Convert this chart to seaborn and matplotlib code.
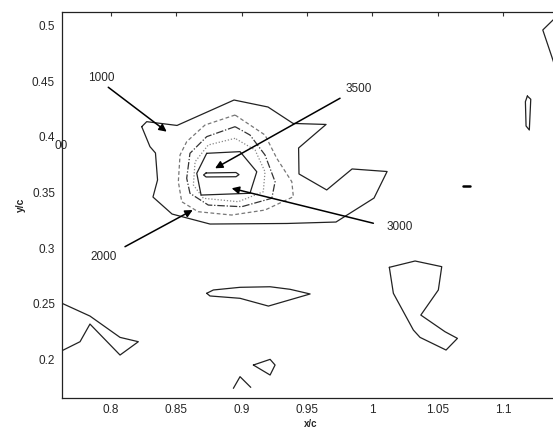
import numpy as np
import pandas as pd
import matplotlib
matplotlib.use("Agg")
import matplotlib.pyplot as plt
import seaborn as sns

# contour polylines (x/c, y/c)
c1000_x = [0.8235, 0.8298, 0.8340, 0.8356, 0.8321, 0.8467, 0.8757, 0.9347, 0.9721, 1.0012,
           1.0112, 0.9844, 0.9650, 0.9438, 0.9435, 0.9645, 0.9393, 0.9201, 0.8941, 0.8505,
           0.8273, 0.8235]
c1000_y = [0.4093, 0.3913, 0.3856, 0.3613, 0.3459, 0.3306, 0.3216, 0.3221, 0.3234, 0.3450,
           0.3689, 0.3712, 0.3523, 0.3667, 0.3901, 0.4113, 0.4122, 0.4270, 0.4333, 0.4104,
           0.4138, 0.4093]

c1500_x = [0.8949, 0.8719, 0.8579, 0.8528, 0.8515, 0.8541, 0.8666, 0.8923, 0.9178, 0.9395,
           0.9383, 0.9268, 0.9178, 0.8949]
c1500_y = [0.4198, 0.4108, 0.3958, 0.3838, 0.3597, 0.3417, 0.3327, 0.3297, 0.3342, 0.3462,
           0.3597, 0.3808, 0.4018, 0.4198]

c2000_x = [0.8949, 0.8732, 0.8604, 0.8579, 0.8604, 0.8744, 0.9000, 0.9230, 0.9255, 0.9178,
           0.9063, 0.8949]
c2000_y = [0.4093, 0.4003, 0.3853, 0.3628, 0.3493, 0.3387, 0.3372, 0.3448, 0.3597, 0.3838,
           0.4018, 0.4093]

c2500_x = [0.8949, 0.8744, 0.8643, 0.8630, 0.8706, 0.8974, 0.9165, 0.9178, 0.9102, 0.8949]
c2500_y = [0.3988, 0.3928, 0.3777, 0.3568, 0.3448, 0.3417, 0.3507, 0.3687, 0.3883, 0.3988]

c3000_x = [0.8732, 0.8987, 0.9115, 0.9063, 0.8689, 0.8656, 0.8732]
c3000_y = [0.3853, 0.3868, 0.3687, 0.3493, 0.3477, 0.3673, 0.3853]

c3500_x = [0.8727, 0.8956, 0.8979, 0.8956, 0.8727, 0.8708, 0.8727]
c3500_y = [0.3676, 0.3680, 0.3661, 0.3642, 0.3640, 0.3658, 0.3676]

# isolated 1000 contours
low_left_x = [0.7625, 0.7839, 0.8069, 0.8209, 0.8069, 0.7839, 0.7763, 0.7625]
low_left_y = [0.2502, 0.2387, 0.2195, 0.2156, 0.2036, 0.2315, 0.2156, 0.2075]
streak_x = [0.8732, 0.8783, 0.8987, 0.9217, 0.9370, 0.9523, 0.9204, 0.8987, 0.8757, 0.8732]
streak_y = [0.2592, 0.2622, 0.2646, 0.2651, 0.2628, 0.2586, 0.2477, 0.2547, 0.2568, 0.2592]
quad_x = [0.9089, 0.9217, 0.9255, 0.9217, 0.9089]
quad_y = [0.1946, 0.1997, 0.1946, 0.1856, 0.1946]
caret_x = [0.8936, 0.8987, 0.9069]
caret_y = [0.1736, 0.1841, 0.1745]
hook_x = [1.0129, 1.0326, 1.0530, 1.0504, 1.0370, 1.0555, 1.0650, 1.0563, 1.0364, 1.0313,
          1.0160, 1.0129]
hook_y = [0.2826, 0.2883, 0.2832, 0.2622, 0.2396, 0.2246, 0.2186, 0.2081, 0.2195, 0.2261,
          0.2592, 0.2826]
sliver_x = [1.1185, 1.1211, 1.1200, 1.1175, 1.1170, 1.1185]
sliver_y = [0.4369, 0.4340, 0.4063, 0.4099, 0.4318, 0.4369]
edge_x = [1.1397, 1.1303, 1.1372, 1.1405]
edge_y = [0.5072, 0.4964, 0.4723, 0.4604]
dash_x = [1.0695, 1.0750]
dash_y = [0.3561, 0.3561]

# labels: text, text position, arrow tail, arrow head
labels = ["1000", "3500", "3000", "2000"]
label_pos = [(0.7929, 0.4529), (0.9892, 0.4430), (1.0211, 0.3189), (0.7941, 0.2922)]
arrow_tail = [(0.7979, 0.4448), (0.9752, 0.4349), (1.0007, 0.3223), (0.8107, 0.3012)]
arrow_head = [(0.8426, 0.4048), (0.8796, 0.3718), (0.8923, 0.3538), (0.8625, 0.3342)]

xticks = [0.8, 0.85, 0.9, 0.95, 1.0, 1.05, 1.1]
xtick_labels = ["0.8", "0.85", "0.9", "0.95", "1", "1.05", "1.1"]
yticks = [0.2, 0.25, 0.3, 0.35, 0.4, 0.45, 0.5]
ytick_labels = ["0.2", "0.25", "0.3", "0.35", "0.4", "0.45", "0.5"]

sns.set_style("white")
plt.rcParams['font.family'] = ['Liberation Sans', 'DejaVu Sans']

fig = plt.figure(figsize=(5.53, 4.28), dpi=100)
ax = fig.add_axes([0.1121, 0.0701, 0.916, 0.9019])


def contour(xs, ys, color="#222222", lw=0.9, ls="-"):
    sns.lineplot(x=xs, y=ys, sort=False, estimator=None, ax=ax,
                 color=color, lw=lw, linestyle=ls)


contour(c1000_x, c1000_y)
contour(c1500_x, c1500_y, color="#777777", ls=(0, (3, 2)))
contour(c2000_x, c2000_y, color="#333333", ls=(0, (6, 1.5, 1, 1.5)))
contour(c2500_x, c2500_y, color="#888888", ls=(0, (1, 1.5)))
contour(c3000_x, c3000_y)
contour(c3500_x, c3500_y)
for xs, ys in [(low_left_x, low_left_y), (streak_x, streak_y), (quad_x, quad_y),
               (caret_x, caret_y), (hook_x, hook_y), (sliver_x, sliver_y),
               (edge_x, edge_y)]:
    contour(xs, ys)
contour(dash_x, dash_y, lw=1.8, color="black")

for txt, pos, tail, head in zip(labels, label_pos, arrow_tail, arrow_head):
    ax.text(pos[0], pos[1], txt, ha="center", va="center", fontsize=8.5)
    ax.annotate("", xy=head, xytext=tail,
                arrowprops=dict(arrowstyle="-|>", color="black", lw=1.1,
                                mutation_scale=11, shrinkA=0, shrinkB=0))

# stray remnant of a clipped label at the left edge
ax.text(0.7618, 0.3915, "00", ha="center", va="center", fontsize=8.5,
        clip_on=False)

ax.set_xlim(0.7625, 1.15)
ax.set_ylim(0.1649, 0.5126)
ax.set_xticks(xticks)
ax.set_xticklabels(xtick_labels)
ax.set_yticks(yticks)
ax.set_yticklabels(ytick_labels)
ax.tick_params(direction="in", length=3, width=0.8, labelsize=8.5,
               top=True, right=False, color="#333333", pad=5)
ax.tick_params(axis="x", pad=4)
ax.set_xlabel("x/c", fontsize=7, fontweight="bold")
ax.xaxis.set_label_coords(0.4916, -0.054)
ax.set_ylabel("y/c", fontsize=7.5, fontweight="bold", labelpad=4)
for side in ["left", "bottom", "top"]:
    ax.spines[side].set_color("#222222")
    ax.spines[side].set_linewidth(0.9)
ax.spines["right"].set_visible(False)

fig.savefig("out.png", dpi=100)
